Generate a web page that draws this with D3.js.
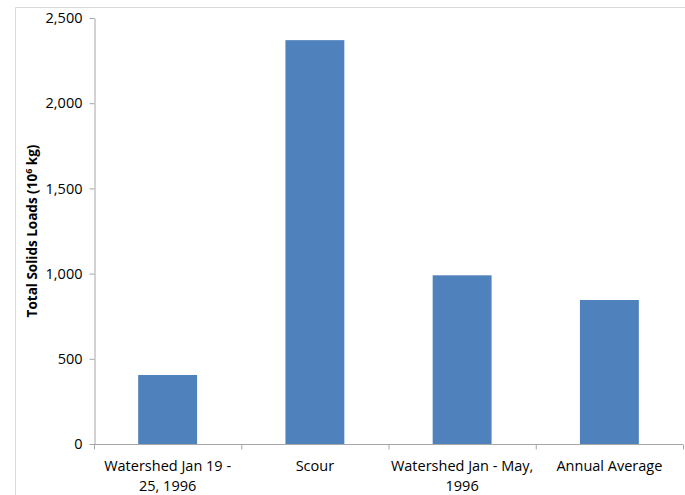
<!DOCTYPE html>
<html><head><meta charset="utf-8">
<script src="https://cdn.jsdelivr.net/npm/d3@7"></script>
<style>
body{margin:0;background:#fff;}
text{font-family:"Open Sans","Noto Sans",sans-serif;}
</style></head>
<body><svg id="c" width="685" height="495"></svg>
<script>
const categories = [["Watershed Jan 19 -","25, 1996"],["Scour"],["Watershed Jan - May,","1996"],["Annual Average"]];
const values = [405, 2370, 990, 845];
const yTicks = [0, 500, 1000, 1500, 2000, 2500];

const svg = d3.select("#c");
const mLeft = 94, mRight = 683, mTop = 18, mBottom = 444;

// outer border
svg.append("path").attr("d","M15.5,495 V7.5 H685").attr("fill","none").attr("stroke","#d9d9d9").attr("stroke-width",1);

const x = d3.scaleBand().domain(d3.range(categories.length)).range([mLeft, mRight]).paddingInner(0.6).paddingOuter(0.3);
const xb = d3.scaleBand().domain(d3.range(categories.length)).range([mLeft, mRight]);
const y = d3.scaleLinear().domain([0, 2500]).range([mBottom, mTop]);

svg.selectAll("rect.bar").data(values).enter().append("rect")
  .attr("x",(d,i)=>x(i)).attr("width",x.bandwidth())
  .attr("y",d=>y(d)).attr("height",d=>y(0)-y(d))
  .attr("fill","#4f81bd");

// y axis
const ya = svg.append("g").attr("transform",`translate(${mLeft+0.5},0)`)
  .call(d3.axisLeft(y).tickValues(yTicks).tickSize(5).tickSizeOuter(0).tickFormat(d3.format(",")));
ya.select(".domain").attr("stroke","#a6a6a6");
ya.selectAll(".tick line").attr("stroke","#a6a6a6");
ya.selectAll(".tick text").attr("font-size","14.5px").attr("fill","#000").attr("x",-12);

// x axis
const xa = svg.append("g").attr("transform",`translate(0,${mBottom+0.5})`)
  .call(d3.axisBottom(xb).tickSize(0).tickFormat(""));
xa.select(".domain").attr("stroke","#a6a6a6").attr("d",`M${mLeft},0H${mRight}`);
const bounds = d3.range(categories.length+1).map(i=> i<categories.length ? xb(i) : mRight);
xa.selectAll("line.bt").data(bounds).enter().append("line").attr("class","bt")
  .attr("x1",d=>d+0.5).attr("x2",d=>d+0.5).attr("y1",0).attr("y2",5).attr("stroke","#a6a6a6");

svg.selectAll("text.cat").data(categories).enter().append("text").attr("class","cat")
  .attr("text-anchor","middle").attr("font-size","14.5px").attr("fill","#000")
  .attr("x",(d,i)=>xb(i)+xb.bandwidth()/2)
  .each(function(d){
    const t=d3.select(this);
    d.forEach((line,j)=>t.append("tspan").attr("x",t.attr("x")).attr("y",471+j*20).text(line));
  });

// y title
const yt = svg.append("text").attr("transform","translate(37,231) rotate(-90)")
  .attr("text-anchor","middle").attr("font-size","13.5px").attr("font-weight","bold").attr("fill","#000");
yt.append("tspan").text("Total Solids Loads (10");
yt.append("tspan").attr("font-size","9px").attr("dy","-5").text("6");
yt.append("tspan").attr("dy","5").text(" kg)");
</script></body></html>
